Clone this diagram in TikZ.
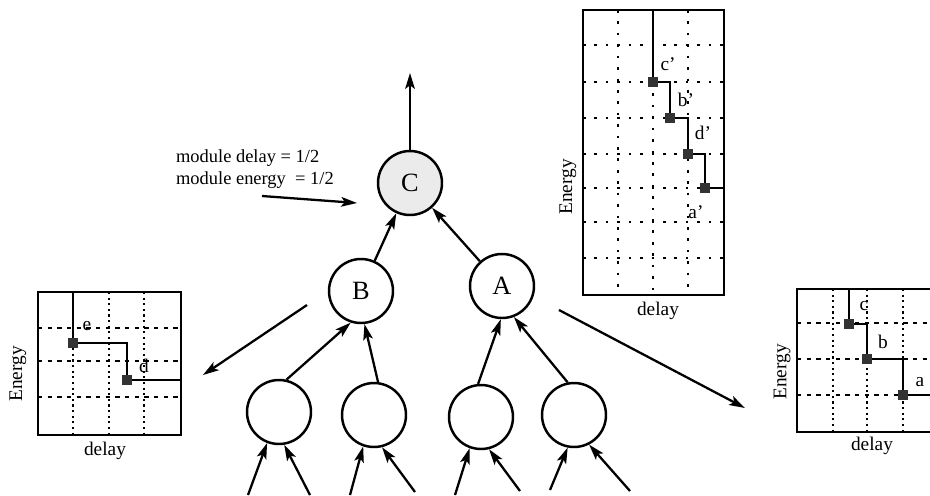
\documentclass[tikz,border=0pt]{standalone}
\usepackage{fontspec}
\setmainfont{Liberation Serif}
\usetikzlibrary{arrows.meta}
\begin{document}
\begin{tikzpicture}[x=0.02cm,y=-0.02cm,
  mod/.style={circle,draw,line width=1.4pt,minimum size=1.28cm,inner sep=0pt,font=\fontsize{15}{15}\selectfont},
  arr/.style={line width=1.3pt,-{Stealth[length=9pt,width=5.5pt,inset=2pt]}},
  frame/.style={line width=1.6pt},
  vgrid/.style={line width=1.3pt,dash pattern=on 1.2pt off 2pt},
  hgrid/.style={line width=1.1pt,dash pattern=on 2.5pt off 3pt},
  sgrid/.style={line width=1.1pt,dash pattern=on 1.5pt off 5pt},
  stair/.style={line width=1.4pt},
  pt/.style={rectangle,fill=black!80,minimum size=0.19cm,inner sep=0pt},
  lab/.style={font=\fontsize{11}{12}\selectfont,inner sep=1pt},
]
\useasboundingbox (0,0) rectangle (930,495);

% ---- tree ----
\node[mod,fill=black!8] (C) at (410,183) {C};
\node[mod] (B) at (361,291) {B};
\node[mod] (A) at (502,286) {A};
\node[mod] (c1) at (279,412) {};
\node[mod] (c2) at (374,415) {};
\node[mod] (c3) at (481,417) {};
\node[mod] (c4) at (574,415) {};

\coordinate (out) at (410,73);
\draw[arr] (C.north) -- (out);

\node[lab,align=left,anchor=north west,font=\fontsize{10.5}{12.5}\selectfont] (txt) at (174,148)
  {module delay = 1/2\\module energy~ = 1/2};
\coordinate (in0) at (262,196);
\coordinate (in1) at (357,203);
\draw[arr] (in0) -- (in1);

\draw[arr] (B) -- (C);
\draw[arr] (A) -- (C);
\draw[arr] (c1.77) -- (B.252);
\draw[arr] (c2.83) -- (B.276);
\draw[arr] (c3.95) -- (A.268);
\draw[arr] (c4.101) -- (A.291);

\coordinate (i1a) at (248,495); \coordinate (i1b) at (310,495);
\coordinate (i2a) at (350,495); \coordinate (i2b) at (415,492);
\coordinate (i3a) at (455,495); \coordinate (i3b) at (520,491);
\coordinate (i4a) at (550,490); \coordinate (i4b) at (630,491);
\draw[arr] (i1a) -- (c1.249);
\draw[arr] (i1b) -- (c1.279);
\draw[arr] (i2a) -- (c2.251);
\draw[arr] (i2b) -- (c2.284);
\draw[arr] (i3a) -- (c3.250);
\draw[arr] (i3b) -- (c3.284);
\draw[arr] (i4a) -- (c4.259);
\draw[arr] (i4b) -- (c4.297);

\coordinate (lf0) at (307,305); \coordinate (lf1) at (203,375);
\draw[arr] (lf0) -- (lf1);
\coordinate (rt0) at (559,310); \coordinate (rt1) at (745,408);
\draw[arr] (rt0) -- (rt1);

% ---- top plot ----
\foreach \y in {45,82,118,154,188,222,258} \draw[sgrid] (583,\y) -- (724,\y);
\draw[sgrid] (618,10) -- (618,295);
\draw[sgrid] (688,10) -- (688,295);
\draw[sgrid] (653,82) -- (653,295);
\draw[frame] (583,10) rectangle (724,295);
\draw[stair] (653,10) -- (653,82) -- (670,82) -- (670,118) -- (688,118) -- (688,154) -- (705,154) -- (705,188) -- (724,188);
\node[pt] (pc) at (653,82) {};
\node[pt] (pb) at (670,118) {};
\node[pt] (pd) at (688,154) {};
\node[pt] (pa) at (705,188) {};
\node[lab] (lc) at (668,64) {c'};
\node[lab] (lb) at (686,100) {b'};
\node[lab] (ld) at (703,133) {d'};
\node[lab] (la) at (696,212) {a'};
\node[lab,rotate=90] (e1) at (568,187) {Energy};
\node[lab] (d1) at (658,311) {delay};

% ---- left plot ----
\foreach \y in {328,361,397} \draw[hgrid] (38,\y) -- (181,\y);
\foreach \x in {73,109,144} \draw[vgrid] (\x,292) -- (\x,435);
\draw[frame] (38,292) rectangle (181,435);
\draw[stair] (73,292) -- (73,343) -- (127,343) -- (127,380) -- (181,380);
\node[pt] (qe) at (73,343) {};
\node[pt] (qd) at (127,380) {};
\node[lab] (le) at (87,326) {e};
\node[lab] (ldd) at (144,366) {d};
\node[lab,rotate=90] (e2) at (18,374) {Energy};
\node[lab] (d2) at (105,451) {delay};

% ---- right plot ----
\foreach \y in {323,359,395} \draw[hgrid] (797,\y) -- (930,\y);
\foreach \x in {833,867,903} \draw[vgrid] (\x,289) -- (\x,432);
\draw[frame] (930,289) -- (797,289) -- (797,432) -- (930,432);
\draw[stair] (849,289) -- (849,324) -- (867,324) -- (867,359) -- (903,359) -- (903,395) -- (930,395);
\node[pt] (rc) at (849,324) {};
\node[pt] (rb) at (867,359) {};
\node[pt] (ra) at (903,395) {};
\node[lab] (lrc) at (864,306) {c};
\node[lab] (lrb) at (883,342) {b};
\node[lab] (lra) at (920,382) {a};
\node[lab,rotate=90] (e3) at (782,372) {Energy};
\node[lab] (d3) at (872,446) {delay};
\end{tikzpicture}
\end{document}
